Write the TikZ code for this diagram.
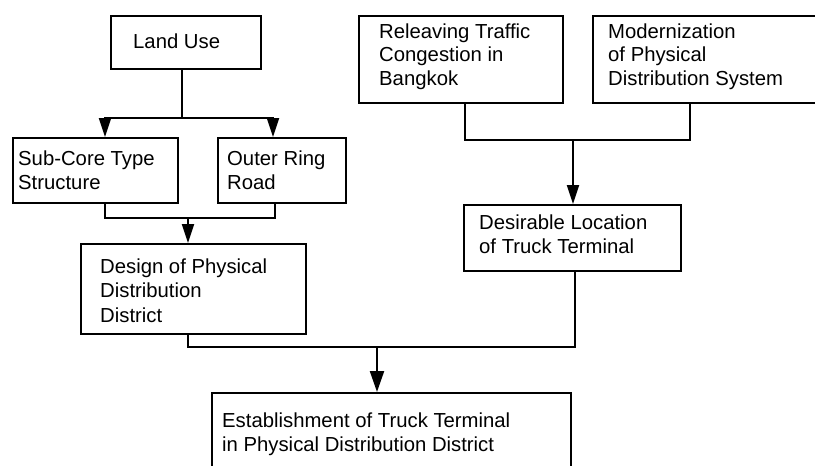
\documentclass[tikz,border=0pt]{standalone}
\usepackage{fontspec}
\setmainfont{Liberation Sans}
\usetikzlibrary{arrows.meta}
\tikzset{
  box/.style={draw, line width=2pt, rectangle, inner sep=0pt, anchor=north west},
  % multi-line labels are anchored at the baseline of their last line
  lbl/.style={anchor=base west, inner sep=0pt, align=left,
    font=\fontsize{20.3pt}{23.5pt}\selectfont},
  link/.style={line width=2.2pt},
  arr/.style={link, -{Triangle[length=19pt,width=12pt]}},
}
\begin{document}
\begin{tikzpicture}[x=1pt,y=-1pt]
\useasboundingbox (0,0) rectangle (815,466);
\clip (0,0) rectangle (815,466);
\fill[white] (0,0) rectangle (815,466);

% boxes
\node[box, minimum width=150pt, minimum height=53pt] (landuse) at (110,15) {};
\node[box, minimum width=165pt, minimum height=65pt] (subcore) at (12,137) {};
\node[box, minimum width=128pt, minimum height=65pt] (outer) at (217,137) {};
\node[box, minimum width=225pt, minimum height=90pt] (design) at (80,243) {};
\node[box, minimum width=204pt, minimum height=87pt] (relieve) at (358,15) {};
\node[box, minimum width=238pt, minimum height=87pt] (modern) at (592,15) {};
\node[box, minimum width=217pt, minimum height=66pt] (desire) at (463,204) {};
\node[box, minimum width=359pt, minimum height=98pt] (final) at (211,392) {};

% texts
\node[lbl] (tlanduse) at (133,48) {Land Use};
\node[lbl] (tsubcore) at (18,189) {Sub-Core Type\\Structure};
\node[lbl] (touter) at (227,189) {Outer Ring\\Road};
\node[lbl, font=\fontsize{20.3pt}{24.5pt}\selectfont] (tdesign) at (100,322) {Design of Physical\\Distribution\\District};
\node[lbl] (trelieve) at (379,85) {Releaving Traffic\\Congestion in\\Bangkok};
\node[lbl] (tmodern) at (608,85) {Modernization\\of Physical\\Distribution System};
\node[lbl] (tdesire) at (479,253) {Desirable Location\\of Truck Terminal};
\node[lbl] (tfinal) at (222,451) {Establishment of Truck Terminal\\in Physical Distribution District};

% junction points
\coordinate (j1) at (182,118);
\coordinate (a1) at (105,118);
\coordinate (a2) at (273,118);
\coordinate (b1) at (105,218);
\coordinate (b2) at (275,218);
\coordinate (j2) at (188,218);
\coordinate (c1) at (188,347);
\coordinate (c2) at (575,347);
\coordinate (j3) at (377,347);
\coordinate (d1) at (465,140);
\coordinate (d2) at (690,140);
\coordinate (j4) at (573,140);

% connectors
\draw[link] (landuse.south -| j1) -- (j1);
\draw[arr] (j1) -| (subcore.north -| a1);
\draw[arr] (j1) -| (outer.north -| a2);

\draw[link] (subcore.south -| b1) |- (j2);
\draw[link] (outer.south -| b2) |- (j2);
\draw[arr] (j2) -- (design.north -| j2);

\draw[link] (relieve.south -| d1) |- (j4);
\draw[link] (modern.south -| d2) |- (j4);
\draw[arr] (j4) -- (desire.north -| j4);

\draw[link] (design.south -| c1) |- (j3);
\draw[link] (desire.south -| c2) |- (j3);
\draw[link, -{Triangle[length=21pt,width=14pt]}] (j3) -- (final.north -| j3);
\end{tikzpicture}
\end{document}
